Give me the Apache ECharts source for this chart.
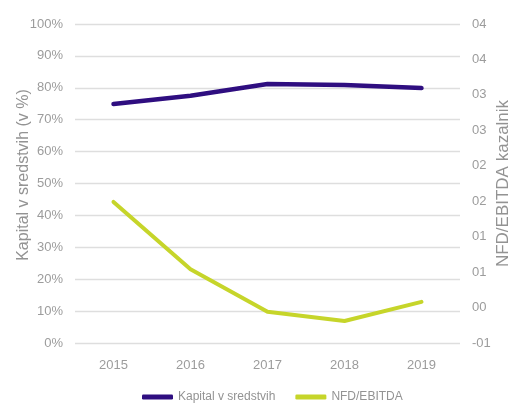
<!DOCTYPE html>
<html>
<head>
<meta charset="utf-8">
<script src="https://cdn.jsdelivr.net/npm/echarts@6/dist/echarts.min.js"></script>
<style>
  html, body { margin: 0; padding: 0; background: #fff; }
  #chart { width: 510px; height: 412px; }
</style>
</head>
<body>
<div id="chart"></div>
<script>
// Years on the category axis
const years = ['2015', '2016', '2017', '2018', '2019'];
// Equity share of assets, in percent (left axis)
const kapital = [74.9, 77.5, 81.2, 80.9, 79.9];
// Net financial debt to EBITDA ratio (right axis)
const nfdEbitda = [1.49, 0.54, -0.06, -0.19, 0.08];

const seriesNames = ['Kapital v sredstvih', 'NFD/EBITDA'];
const axisNames = ['Kapital v sredstvih (v %)', 'NFD/EBITDA kazalnik'];

const labelGrey = '#9c9c9c';
const titleGrey = '#939393';
const fontFamily = '"Liberation Sans", Arial, sans-serif';

// Right-axis ticks are shown as whole numbers with two digits
function twoDigit(v) {
  const r = Math.sign(v) * Math.round(Math.abs(v));
  return (r < 0 ? '-' : '') + String(Math.abs(r)).padStart(2, '0');
}

const chart = echarts.init(document.getElementById('chart'));
chart.setOption({
  animation: false,
  backgroundColor: '#ffffff',
  textStyle: { fontFamily: fontFamily },
  grid: { left: 75, right: 50, top: 24, bottom: 69, containLabel: false, outerBoundsMode: 'none' },
  legend: {
    left: 137,
    top: 386,
    itemGap: 20,
    itemWidth: 31,
    itemHeight: 5,
    icon: 'roundRect',
    textStyle: { color: titleGrey, fontSize: 12, fontFamily: fontFamily },
    data: seriesNames
  },
  xAxis: {
    type: 'category',
    data: years,
    boundaryGap: true,
    axisLine: { show: false },
    axisTick: { show: false },
    axisLabel: { color: labelGrey, fontSize: 13, margin: 16 }
  },
  yAxis: [
    {
      type: 'value',
      min: 0, max: 100, interval: 10,
      name: axisNames[0],
      nameLocation: 'middle',
      nameGap: 43,
      nameRotate: 90,
      nameMoveOverlap: false,
      nameTextStyle: { color: titleGrey, fontSize: 16, padding: [0, 0, 0, 17] },
      axisLine: { show: false },
      axisTick: { show: false },
      axisLabel: { color: labelGrey, fontSize: 13, margin: 12, formatter: '{value}%' },
      splitLine: { lineStyle: { color: '#dedede', width: 1.3 } }
    },
    {
      type: 'value',
      min: -0.5, max: 4, interval: 0.5,
      position: 'right',
      name: axisNames[1],
      nameLocation: 'middle',
      nameGap: 35,
      nameRotate: 90,
      nameMoveOverlap: false,
      nameTextStyle: { color: titleGrey, fontSize: 17 },
      axisLine: { show: false },
      axisTick: { show: false },
      axisLabel: { color: labelGrey, fontSize: 13, margin: 12, formatter: twoDigit },
      splitLine: { show: false }
    }
  ],
  series: [
    {
      name: seriesNames[0],
      type: 'line',
      yAxisIndex: 0,
      data: kapital,
      symbol: 'none',
      color: '#2f0e80',
      lineStyle: { width: 4.5, color: '#2f0e80', cap: 'round', join: 'round' }
    },
    {
      name: seriesNames[1],
      type: 'line',
      yAxisIndex: 1,
      data: nfdEbitda,
      symbol: 'none',
      color: '#c6d52a',
      lineStyle: { width: 4, color: '#c6d52a', cap: 'round', join: 'round' }
    }
  ]
});
</script>
</body>
</html>
